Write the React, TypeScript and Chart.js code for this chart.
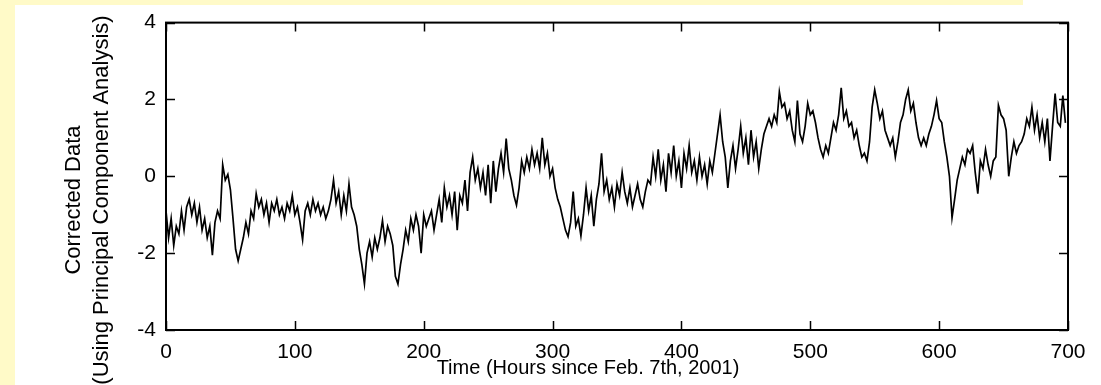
import React, { useEffect, useRef } from "react";
import { Chart, registerables } from "chart.js";

Chart.register(...registerables);

// Sampling step of the series (hours)
const HOUR_STEP = 2;

// Corrected data values, 100 hours per array
const VALUES_000 = [
  -0.9, -1.6, -1.1, -1.8, -1.3, -1.5, -0.9, -1.4, -0.8, -0.6,
  -1.0, -0.7, -1.2, -0.8, -1.4, -1.1, -1.6, -1.3, -2.05, -1.2,
  -0.9, -1.1, 0.3, -0.1, 0.05, -0.35, -1.1, -1.9, -2.2, -1.9,
  -1.6, -1.2, -1.5, -0.9, -1.1, -0.45, -0.8, -0.6, -1.0, -0.7,
  -1.2, -0.7, -0.9, -0.6, -1.0, -0.8, -1.1, -0.7, -0.9, -0.5,
];
const VALUES_100 = [
  -1.0, -0.8, -1.2, -1.65, -0.9, -0.7, -1.0, -0.6, -0.9, -0.7,
  -1.0, -0.8, -1.1, -0.9, -0.6, -0.1, -0.7, -0.4, -1.0, -0.5,
  -0.9, -0.2, -0.8, -1.0, -1.3, -1.9, -2.3, -2.8, -2.0, -1.7,
  -2.1, -1.6, -1.9, -1.6, -1.15, -1.7, -1.3, -1.5, -1.8, -2.6,
  -2.8, -2.3, -1.9, -1.4, -1.7, -1.1, -1.4, -1.0, -1.3, -2.0,
];
const VALUES_200 = [
  -1.0, -1.3, -1.1, -0.9, -1.4, -1.0, -0.6, -1.2, -0.3, -0.8,
  -0.5, -1.0, -0.4, -1.4, -0.5, -0.7, -0.1, -0.9, 0.1, 0.5,
  -0.1, 0.2, -0.3, 0.1, -0.5, 0.3, -0.7, 0.4, -0.4, 0.2,
  0.6, 0.1, 0.98, 0.2, -0.1, -0.5, -0.75, -0.3, 0.4, 0.1,
  0.5, 0.2, 0.7, 0.3, 0.6, 0.2, 1.0, 0.3, 0.6, 0.0,
];
const VALUES_300 = [
  0.2, -0.3, -0.6, -0.8, -1.1, -1.4, -1.57, -1.2, -0.4, -1.3,
  -1.1, -1.55, -1.0, -0.3, -0.9, -0.5, -1.3, -0.6, -0.2, 0.6,
  -0.4, -0.1, -0.6, -0.3, -0.8, -0.2, -0.5, 0.1, -0.4, -0.7,
  -0.3, -0.8, -0.5, -0.2, -0.6, -0.8, -0.4, -0.1, -0.2, 0.5,
  0.0, 0.7, -0.1, 0.3, -0.4, 0.6, 0.1, 0.8, 0.0, 0.4,
];
const VALUES_400 = [
  -0.3, 0.6, 0.2, 0.8, 0.1, 0.4, -0.1, 0.5, 0.0, 0.3,
  -0.2, 0.4, 0.1, 0.6, 1.1, 1.6, 0.9, 0.5, -0.3, 0.4,
  0.8, 0.2, 0.7, 1.3, 0.6, 1.0, 0.3, 1.2, 0.5, 0.9,
  0.2, 0.7, 1.1, 1.3, 1.5, 1.3, 1.6, 1.4, 2.2, 1.8,
  1.9, 1.5, 1.7, 1.2, 0.9, 1.97, 1.1, 0.9, 1.3, 1.9,
];
const VALUES_500 = [
  1.6, 1.7, 1.4, 1.0, 0.7, 0.5, 0.8, 0.6, 1.0, 1.4,
  1.2, 1.6, 2.3, 1.5, 1.7, 1.3, 1.4, 1.0, 1.2, 0.8,
  0.5, 0.6, 0.4, 0.9, 1.8, 2.25, 1.9, 1.5, 1.7, 1.2,
  1.0, 0.8, 1.0, 0.5, 0.9, 1.4, 1.6, 2.0, 2.25, 1.7,
  1.9, 1.4, 1.0, 0.8, 1.0, 0.8, 1.1, 1.3, 1.6, 1.97,
];
const VALUES_600 = [
  1.5, 1.4, 0.9, 0.5, 0.0, -1.08, -0.6, -0.1, 0.2, 0.5,
  0.3, 0.7, 0.6, 0.8, 0.1, -0.45, 0.4, 0.2, 0.7, 0.3,
  0.0, 0.4, 0.5, 1.85, 1.6, 1.5, 1.2, 0.0, 0.5, 0.9,
  0.6, 0.8, 0.9, 1.1, 1.5, 1.3, 1.8, 1.2, 1.6, 1.0,
  1.4, 0.9, 1.5, 0.4, 1.3, 2.15, 1.4, 1.3, 2.1, 1.39,
];

const SERIES = [
  ...VALUES_000, ...VALUES_100, ...VALUES_200, ...VALUES_300,
  ...VALUES_400, ...VALUES_500, ...VALUES_600,
];
const HOURS = SERIES.map((_, i) => i * HOUR_STEP);

const X_TICKS = [0, 100, 200, 300, 400, 500, 600, 700];
const Y_TICKS = [-4, -2, 0, 2, 4];
const X_TITLE = "Time (Hours since Feb. 7th, 2001)";
const Y_TITLE = ["Corrected Data", "(Using Principal Component Analysis)"];

const W = 1101;
const H = 385;
const YELLOW = "rgb(255,250,200)";
const FONT = "Arial, 'Liberation Sans', sans-serif";
const TICK = 9;

const decorPlugin = {
  id: "decor",
  beforeDraw(chart: any) {
    const ctx = chart.ctx;
    ctx.save();
    ctx.fillStyle = "#ffffff";
    ctx.fillRect(0, 0, W, H);
    ctx.fillStyle = YELLOW;
    ctx.fillRect(0, 0, 1023, 5);
    ctx.fillRect(0, 0, 15, H);
    ctx.restore();
  },
  afterDraw(chart: any) {
    const { ctx, chartArea: a, scales } = chart;
    ctx.save();
    ctx.strokeStyle = "#000";
    ctx.lineWidth = 2;
    ctx.strokeRect(a.left, a.top, a.right - a.left, a.bottom - a.top);
    ctx.beginPath();
    X_TICKS.forEach((v) => {
      const px = Math.round(scales.x.getPixelForValue(v)) + 0.5;
      ctx.moveTo(px, a.bottom);
      ctx.lineTo(px, a.bottom - TICK);
      ctx.moveTo(px, a.top);
      ctx.lineTo(px, a.top + TICK);
    });
    Y_TICKS.forEach((v) => {
      const py = Math.round(scales.y.getPixelForValue(v)) + 0.5;
      ctx.moveTo(a.left, py);
      ctx.lineTo(a.left + TICK, py);
      ctx.moveTo(a.right, py);
      ctx.lineTo(a.right - TICK, py);
    });
    ctx.lineWidth = 1.5;
    ctx.stroke();

    // axis titles
    ctx.fillStyle = "#000";
    ctx.font = `20px ${FONT}`;
    ctx.textAlign = "center";
    ctx.textBaseline = "alphabetic";
    ctx.fillText(X_TITLE, 588, 374);

    ctx.font = `22px ${FONT}`;
    const baselines = [80, 108];
    Y_TITLE.forEach((line, i) => {
      ctx.save();
      ctx.translate(baselines[i], 200);
      ctx.rotate(-Math.PI / 2);
      ctx.fillText(line, 0, 0);
      ctx.restore();
    });
    ctx.restore();
  },
};

export default function App() {
  const ref = useRef<HTMLCanvasElement | null>(null);

  useEffect(() => {
    document.body.style.margin = "0";
    const canvas = ref.current;
    if (!canvas) return;
    const chart = new Chart(canvas, {
      type: "line",
      data: {
        datasets: [
          {
            data: HOURS.map((h, i) => ({ x: h, y: SERIES[i] })),
            borderColor: "#000",
            borderWidth: 1.7,
            pointRadius: 0,
            tension: 0,
            fill: false,
          },
        ],
      },
      options: {
        animation: false,
        responsive: false,
        devicePixelRatio: 1,
        layout: { padding: { top: 20, right: 33, left: 0, bottom: 0 } },
        plugins: {
          legend: { display: false },
          tooltip: { enabled: false },
          title: { display: false },
        },
        scales: {
          x: {
            type: "linear",
            min: 0,
            max: 700,
            afterBuildTicks: (s: any) => {
              s.ticks = X_TICKS.map((v) => ({ value: v }));
            },
            afterFit: (s: any) => {
              s.height = 55;
            },
            grid: { display: false, drawTicks: false },
            border: { display: false },
            ticks: {
              color: "#000",
              font: { family: FONT, size: 21 },
              padding: 10,
              maxRotation: 0,
              autoSkip: false,
              callback: (v: any) => String(v),
            },
          },
          y: {
            type: "linear",
            min: -4,
            max: 4,
            afterBuildTicks: (s: any) => {
              s.ticks = Y_TICKS.map((v) => ({ value: v }));
            },
            afterFit: (s: any) => {
              s.width = 166;
            },
            grid: { display: false, drawTicks: false },
            border: { display: false },
            ticks: {
              color: "#000",
              font: { family: FONT, size: 21 },
              padding: 10,
              autoSkip: false,
              callback: (v: any) => String(v),
            },
          },
        },
      },
      plugins: [decorPlugin],
    });
    return () => chart.destroy();
  }, []);

  return (
    <div style={{ position: "absolute", left: 0, top: 0, width: W, height: H }}>
      <canvas ref={ref} width={W} height={H} style={{ display: "block" }} />
    </div>
  );
}
